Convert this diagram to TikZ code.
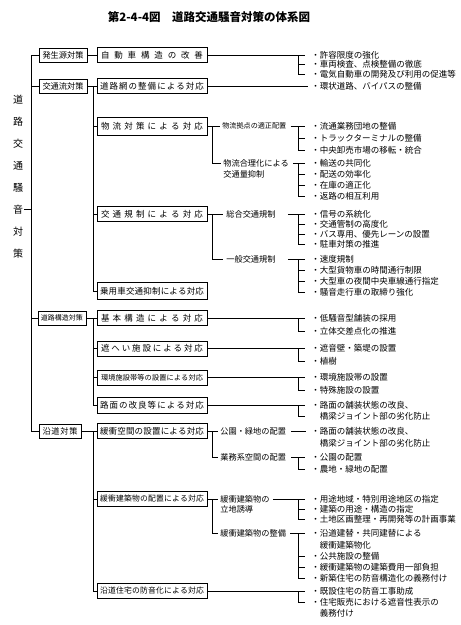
\documentclass[tikz,border=0pt]{standalone}
\usepackage{fontspec}
\setmainfont{Noto Sans CJK JP}
\makeatletter
\def\spr@end{\spr@end}
\def\spr@loop#1{\ifx#1\spr@end\else\hfill#1\expandafter\spr@loop\fi}
\def\spr@first#1{#1\spr@loop}
\newcommand\spr[2]{\makebox[#1]{\spr@first#2\spr@end}}
\makeatother
\begin{document}
\begin{tikzpicture}[x=1pt,y=-1pt,line width=0.75pt,
  gbox/.style={draw, minimum height=14pt, inner sep=0pt, font=\fontsize{8.2}{9}\selectfont},
  bx/.style={draw, minimum width=110pt, minimum height=15pt, inner sep=0pt, font=\fontsize{8.5}{10}\selectfont},
  mid/.style={anchor=west, inner sep=0pt, font=\fontsize{8.2}{9.5}\selectfont},
  itm/.style={anchor=west, inner sep=0pt, font=\fontsize{8.5}{10}\selectfont},
  vt/.style={inner sep=0pt, font=\fontsize{10}{12}\selectfont},
  ttl/.style={inner sep=0pt, font=\fontsize{11.5}{13}\selectfont\bfseries}]
\fill[white] (0,0) rectangle (461,625);
\useasboundingbox (0,0) rectangle (461,625);
% guide coordinates
\coordinate (sp) at (31,0);
\coordinate (ss) at (93,0);
\coordinate (ms) at (212,0);
\coordinate (kx) at (298,0);
\coordinate (ke) at (305,0);
% title
\node[ttl] (ttl) at (209,17) {第2-4-4図\hspace{1em}道路交通騒音対策の体系図};
% vertical title
\node[vt] (t1) at (18,100) {道};
\node[vt] (t2) at (18,121.9) {路};
\node[vt] (t3) at (18,143.8) {交};
\node[vt] (t4) at (18,165.7) {通};
\node[vt] (t5) at (18,187.6) {騒};
\node[vt] (t6) at (18,209.5) {音};
\node[vt] (t7) at (18,231.4) {対};
\node[vt] (t8) at (18,253.3) {策};
% level 1
\node[gbox, minimum width=48pt] (g1) at (63,55) {\spr{41pt}{発生源対策}};
\node[gbox, minimum width=48pt] (g2) at (63,86) {\spr{40pt}{交通流対策}};
\node[gbox, minimum width=48pt, font=\fontsize{7}{8}\selectfont] (g3) at (62,318) {\spr{42pt}{道路構造対策}};
\node[gbox, minimum width=42pt] (g4) at (60,431) {\spr{35pt}{沿道対策}};
% level 2
\node[bx] (b1) at (152,55) {\spr{102pt}{自動車構造の改善}};
\node[bx] (b2) at (152,86) {\spr{104pt}{道路網の整備による対応}};
\node[bx, minimum height=18pt] (b3) at (152,126) {\spr{102pt}{物流対策による対応}};
\node[bx] (b4) at (152,214) {\spr{102pt}{交通規制による対応}};
\node[bx, minimum height=17pt] (b5) at (152,291) {\spr{104pt}{乗用車交通抑制による対応}};
\node[bx] (b6) at (152,318) {\spr{102pt}{基本構造による対応}};
\node[bx] (b7) at (152,348.5) {\spr{102pt}{遮へい施設による対応}};
\node[bx, font=\fontsize{7.2}{8}\selectfont] (b8) at (152,377.5) {\spr{102pt}{環境施設帯等の設置による対応}};
\node[bx, minimum height=16pt] (b9) at (152,405.5) {\spr{104pt}{路面の改良等による対応}};
\node[bx] (b10) at (152,431) {\spr{104pt}{緩衝空間の設置による対応}};
\node[bx, font=\fontsize{7.8}{9}\selectfont] (b11) at (152,499) {\spr{104pt}{緩衝建築物の配置による対応}};
\node[bx, font=\fontsize{7.8}{9}\selectfont] (b12) at (152,591) {\spr{104pt}{沿道住宅の防音化による対応}};
% level 3
\node[mid, font=\fontsize{7.1}{8}\selectfont] (m1) at (222,126) {物流拠点の適正配置};
\node[mid] (m2) at (223,163) {物流合理化による};
\node[mid] (m2b) at (223,174) {交通量抑制};
\node[mid] (m3) at (226,214) {総合交通規制};
\node[mid] (m4) at (226,259) {一般交通規制};
\node[mid] (m5) at (220,431) {公園・緑地の配置};
\node[mid] (m6) at (220,457) {業務系空間の配置};
\node[mid] (m7) at (220,499) {緩衝建築物の};
\node[mid] (m7b) at (220,509) {立地誘導};
\node[mid] (m8) at (220,533) {緩衝建築物の整備};
% items
\node[itm] (a1) at (311,55) {・許容限度の強化};
\node[itm] (a2) at (311,64.5) {・車両検査、点検整備の徹底};
\node[itm] (a3) at (311,74) {・電気自動車の開発及び利用の促進等};
\node[itm] (bb1) at (311,86) {・環状道路、バイパスの整備};
\node[itm] (c1) at (311,126) {・流通業務団地の整備};
\node[itm] (c2) at (311,138) {・トラックターミナルの整備};
\node[itm] (c3) at (311,150) {・中央卸売市場の移転・統合};
\node[itm] (d1) at (311,163) {・輸送の共同化};
\node[itm] (d2) at (311,174) {・配送の効率化};
\node[itm] (d3) at (311,185) {・在庫の適正化};
\node[itm] (d4) at (311,196) {・返路の相互利用};
\node[itm] (e1) at (311,214) {・信号の系統化};
\node[itm] (e2) at (311,224) {・交通管制の高度化};
\node[itm] (e3) at (311,234) {・バス専用、優先レーンの設置};
\node[itm] (e4) at (311,244) {・駐車対策の推進};
\node[itm] (f1) at (311,259) {・速度規制};
\node[itm] (f2) at (311,270) {・大型貨物車の時間通行制限};
\node[itm] (f3) at (311,281) {・大型車の夜間中央車線通行指定};
\node[itm] (f4) at (311,292) {・騒音走行車の取締り強化};
\node[itm] (h1) at (311,318) {・低騒音型舗装の採用};
\node[itm] (h2) at (311,331) {・立体交差点化の推進};
\node[itm] (i1) at (311,348.5) {・遮音壁・築堤の設置};
\node[itm] (i2) at (311,361) {・植樹};
\node[itm] (k1) at (311,377.5) {・環境施設帯の設置};
\node[itm] (k2) at (311,390) {・特殊施設の設置};
\node[itm] (j1) at (311,405.5) {・路面の舗装状態の改良、};
\node[itm] (j2) at (319.5,416.5) {橋梁ジョイント部の劣化防止};
\node[itm] (p1) at (311,431) {・路面の舗装状態の改良、};
\node[itm] (p2) at (319.5,443) {橋梁ジョイント部の劣化防止};
\node[itm] (q1) at (311,457) {・公園の配置};
\node[itm] (q2) at (311,469) {・農地・緑地の配置};
\node[itm] (r1) at (311,499) {・用途地域・特別用途地区の指定};
\node[itm] (r2) at (311,509) {・建築の用途・構造の指定};
\node[itm] (r3) at (311,519.5) {・土地区画整理・再開発等の計画事業};
\node[itm] (n1) at (311,533) {・沿道建替・共同建替による};
\node[itm] (n2) at (319.5,545) {緩衝建築物化};
\node[itm] (n3) at (311,556) {・公共施設の整備};
\node[itm] (n4) at (311,567) {・緩衝建築物の建築費用一部負担};
\node[itm] (n5) at (311,578) {・新築住宅の防音構造化の義務付け};
\node[itm] (o1) at (311,591) {・既設住宅の防音工事助成};
\node[itm] (o2) at (311,602) {・住宅販売における遮音性表示の};
\node[itm] (o3) at (319.5,613) {義務付け};
% main spine
\draw (g1.west) -| (g4.west -| sp) -- (g4.west);
\draw (g2.west -| sp) -- (g2.west);
\draw (g3.west -| sp) -- (g3.west);
\draw ([xshift=1pt]t6.east) -- (t6.east -| sp);
% level 1 -> level 2
\draw (g1.east) -- (b1.west);
\draw (g2.east) -- (b2.west);
\draw (g2.east -| ss) |- (b5.west);
\draw (b3.west -| ss) -- (b3.west);
\draw (b4.west -| ss) -- (b4.west);
\draw (g3.east) -- (b6.west);
\draw (g3.east -| ss) |- (b9.west);
\draw (b7.west -| ss) -- (b7.west);
\draw (b8.west -| ss) -- (b8.west);
\draw (g4.east) -- (b10.west);
\draw (g4.east -| ss) |- (b12.west);
\draw (b11.west -| ss) -- (b11.west);
% level 2 -> level 3
\draw (b3.east) -- ([xshift=-2pt]m1.west);
\draw (b3.east -| ms) |- ([xshift=-2pt]m2.west);
\draw (b4.east) -- ([xshift=-3pt]m3.west);
\draw (b4.east -| ms) |- ([xshift=-3pt]m4.west);
\draw (b10.east) -- ([xshift=-2pt]m5.west);
\draw (b10.east -| ms) |- ([xshift=-2pt]m6.west);
\draw (b11.east) -- ([xshift=-2pt]m7.west);
\draw (b11.east -| ms) |- ([xshift=-2pt]m8.west);
% brackets
\draw (b1.east) -- (a1.west -| ke);
\draw (a1.west -| kx) |- (a3.west -| ke);
\draw (a2.west -| kx) -- (a2.west -| ke);
\draw (b2.east) -- ([xshift=-3pt]bb1.west);
\draw ([xshift=4pt]m1.east) -- (c1.west -| ke);
\draw (c1.west -| kx) |- (c3.west -| ke);
\draw (c2.west -| kx) -- (c2.west -| ke);
\draw ([xshift=4pt]m2.east) -- (d1.west -| ke);
\draw (d1.west -| kx) |- (d4.west -| ke);
\draw (d2.west -| kx) -- (d2.west -| ke);
\draw (d3.west -| kx) -- (d3.west -| ke);
\draw ([xshift=12pt]m3.east) -- (e1.west -| ke);
\draw (e1.west -| kx) |- (e4.west -| ke);
\draw (e2.west -| kx) -- (e2.west -| ke);
\draw (e3.west -| kx) -- (e3.west -| ke);
\draw ([xshift=12pt]m4.east) -- (f1.west -| ke);
\draw (f1.west -| kx) |- (f4.west -| ke);
\draw (f2.west -| kx) -- (f2.west -| ke);
\draw (f3.west -| kx) -- (f3.west -| ke);
\draw (b6.east) -- (h1.west -| ke);
\draw (h1.west -| kx) |- (h2.west -| ke);
\draw (b7.east) -- (i1.west -| ke);
\draw (i1.west -| kx) |- (i2.west -| ke);
\draw (b8.east) -- (k1.west -| ke);
\draw (k1.west -| kx) |- (k2.west -| ke);
\draw (b9.east) -- (j1.west -| ke);
\draw (j1.west -| kx) |- (j2.west -| ke);
\draw ([xshift=5pt]m5.east) -- ([xshift=-5pt]p1.west);
\draw ([xshift=5pt]m6.east) -- (q1.west -| ke);
\draw (q1.west -| kx) |- (q2.west -| ke);
\draw ([xshift=3pt]m7.east) -- (r1.west -| ke);
\draw (r1.west -| kx) |- (r3.west -| ke);
\draw (r2.west -| kx) -- (r2.west -| ke);
\draw ([xshift=4pt]m8.east) -- (n1.west -| ke);
\draw (n1.west -| kx) |- (n5.west -| ke);
\draw (n3.west -| kx) -- (n3.west -| ke);
\draw (n4.west -| kx) -- (n4.west -| ke);
\draw (b12.east) -- (o1.west -| ke);
\draw (o1.west -| kx) |- (o2.west -| ke);
\end{tikzpicture}
\end{document}
